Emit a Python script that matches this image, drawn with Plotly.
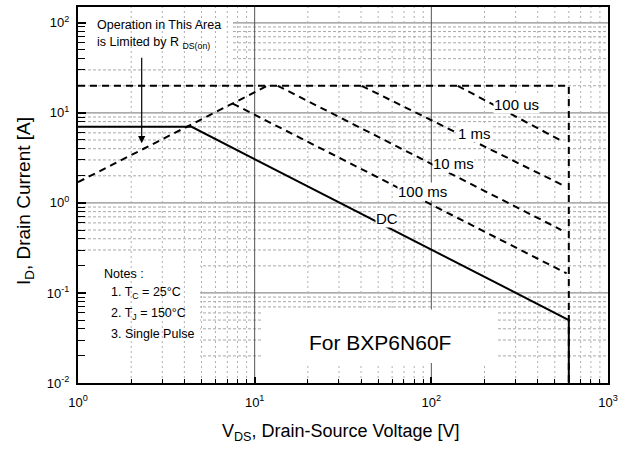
import math
import plotly.graph_objects as go

# ---------------- data ----------------
dc_v = [1, 4.4, 600, 600]
dc_i = [7, 7, 0.05, 0.01]

limit_v = [1, 600, 600]          # 20 A pulsed limit and 600 V BVDSS limit
limit_i = [20, 20, 0.01]

rds_v = [1, 11.8]                # R_DS(on) limit line
rds_i = [1.7, 20]

us100_v = [141, 556]
us100_i = [20, 4.8]
ms1_v = [40.3, 546]
ms1_i = [20, 1.6]
ms10_v = [13.5, 545]
ms10_i = [20, 0.5]
ms100_v = [7.5, 583]
ms100_i = [12.7, 0.165]

x_ticks = [1, 10, 100, 1000]
x_ticktext = ["10<sup>0</sup>", "10<sup>1</sup>", "10<sup>2</sup>", "10<sup>3</sup>"]
y_ticks = [0.01, 0.1, 1, 10, 100]
y_ticktext = ["10<sup>-2</sup>", "10<sup>-1</sup>", "10<sup>0</sup>", "10<sup>1</sup>", "10<sup>2</sup>"]

XR = [0, 3]
YR = [-2, 2.176]

FONT = "Liberation Sans, Arial, Helvetica, sans-serif"

fig = go.Figure()

dash_line = dict(color="black", width=2, dash="7px,5px")
fig.add_trace(go.Scatter(x=limit_v, y=limit_i, mode="lines", line=dash_line, hoverinfo="skip"))
fig.add_trace(go.Scatter(x=rds_v, y=rds_i, mode="lines", line=dash_line, hoverinfo="skip"))
for vv, ii in [(us100_v, us100_i), (ms1_v, ms1_i), (ms10_v, ms10_i), (ms100_v, ms100_i)]:
    fig.add_trace(go.Scatter(x=vv, y=ii, mode="lines", line=dash_line, hoverinfo="skip"))
fig.add_trace(go.Scatter(x=dc_v, y=dc_i, mode="lines",
                         line=dict(color="black", width=2), hoverinfo="skip"))

# ---------------- grid drawn as shapes ----------------
def fx(v):
    return (math.log10(v) - XR[0]) / (XR[1] - XR[0])

def fy(v):
    return (math.log10(v) - YR[0]) / (YR[1] - YR[0])

def px2fx(p):
    return (p - 78) / 530.0

def px2fy(p):
    return (383 - p) / 378.0

shapes = []
# horizontal grid
for e in range(-2, 3):
    for m in range(1, 10):
        v = m * 10 ** e
        if v <= 0.01 or math.log10(v) > YR[1]:
            continue
        if m == 1:
            ln = dict(color="#8f8f8f", width=1.3)
        else:
            ln = dict(color="#a8a8a8", width=1, dash="3px,2px")
        shapes.append(dict(type="line", xref="paper", yref="paper", x0=0, x1=1,
                           y0=fy(v), y1=fy(v), line=ln, layer="below"))
# white boxes that hide horizontal grid only
for (x0, x1, y0, y1) in [(78, 233, 5, 63), (78, 200, 257, 383)]:
    shapes.append(dict(type="rect", xref="paper", yref="paper",
                       x0=px2fx(x0), x1=px2fx(x1), y0=px2fy(y1), y1=px2fy(y0),
                       fillcolor="white", line=dict(width=0), layer="below"))
# vertical grid
for e in range(0, 3):
    for m in range(1, 10):
        v = m * 10 ** e
        if v <= 1:
            continue
        if m == 1:
            ln = dict(color="#555555", width=1)
        else:
            ln = dict(color="#b0b0b0", width=1, dash="2px,3px")
        shapes.append(dict(type="line", xref="paper", yref="paper", x0=fx(v), x1=fx(v),
                           y0=0, y1=1, line=ln, layer="below"))
# box behind the part-number text
shapes.append(dict(type="rect", xref="paper", yref="paper",
                   x0=px2fx(262), x1=px2fx(498), y0=px2fy(363), y1=px2fy(309),
                   fillcolor="white", line=dict(width=0), layer="below"))

annotations = []
def lab(text, cx, cy, size=15, bg="white", xanchor="center", ax_=None):
    annotations.append(dict(text=text, xref="paper", yref="paper", x=px2fx(cx), y=px2fy(cy),
                            xanchor=xanchor, yanchor="middle", showarrow=False,
                            font=dict(family=FONT, size=size, color="black"),
                            bgcolor=bg, borderpad=0))

lab("100 us", 516, 103)
lab("1 ms", 475, 132)
lab("10 ms", 453, 162)
lab("100 ms", 422, 190)
lab("DC", 387, 218)
lab("For BXP6N60F", 308, 342, size=21, bg="rgba(0,0,0,0)", xanchor="left")

lab("Operation in This Area", 96, 23, size=12.5, bg="rgba(0,0,0,0)", xanchor="left")
lab("is Limited by R <sub>DS(on)</sub>", 96, 41, size=12.5, bg="rgba(0,0,0,0)", xanchor="left")

lab("Notes :", 103, 273, size=12.5, bg="rgba(0,0,0,0)", xanchor="left")
lab("1. T<sub>C</sub> = 25°C", 110, 293, size=12.5, bg="rgba(0,0,0,0)", xanchor="left")
lab("2. T<sub>J</sub> = 150°C", 110, 314, size=12.5, bg="rgba(0,0,0,0)", xanchor="left")
lab("3. Single Pulse", 110, 334, size=12.5, bg="rgba(0,0,0,0)", xanchor="left")

# arrow pointing to the R_DS(on) line
annotations.append(dict(xref="paper", yref="paper", x=px2fx(141.7), y=px2fy(142),
                        ax=0, ay=-87, axref="pixel", ayref="pixel", text="",
                        showarrow=True, arrowhead=2, arrowsize=1.2, arrowwidth=1.2,
                        arrowcolor="black", standoff=0, startstandoff=0))

# axis titles
annotations.append(dict(text="V<sub>DS</sub>, Drain-Source Voltage [V]", xref="paper", yref="paper",
                        x=px2fx(341), y=px2fy(433), xanchor="center", yanchor="middle",
                        showarrow=False, font=dict(family=FONT, size=18, color="black")))
annotations.append(dict(text="I<sub>D</sub>, Drain Current [A]", xref="paper", yref="paper",
                        x=px2fx(25), y=px2fy(200), xanchor="center", yanchor="middle",
                        textangle=-90, showarrow=False,
                        font=dict(family=FONT, size=19, color="black")))

x_minor = [m * 10 ** e for e in range(0, 3) for m in range(2, 10)]
y_minor = [m * 10 ** e for e in range(-2, 3) for m in range(2, 10) if m * 10 ** e < 150]

fig.update_layout(
    width=629, height=450,
    margin=dict(l=78, r=21, t=5, b=67),
    paper_bgcolor="white", plot_bgcolor="white",
    showlegend=False,
    shapes=shapes, annotations=annotations,
    font=dict(family=FONT, color="black", size=12),
    xaxis=dict(type="log", range=XR, tickmode="array", tickvals=x_ticks, ticktext=x_ticktext,
               showgrid=False, zeroline=False, showline=True, linecolor="black", linewidth=2,
               mirror=True, ticks="inside", ticklen=6, tickwidth=1.5, tickcolor="black",
               ticklabelstandoff=6,
               tickfont=dict(family=FONT, size=13, color="black"),
               minor=dict(tickmode="array", tickvals=x_minor, ticks="inside", ticklen=4,
                          tickwidth=1.3, tickcolor="black", showgrid=False)),
    yaxis=dict(type="log", range=YR, tickmode="array", tickvals=y_ticks, ticktext=y_ticktext,
               showgrid=False, zeroline=False, showline=True, linecolor="black", linewidth=2,
               mirror=True, ticks="inside", ticklen=8, tickwidth=1.5, tickcolor="black",
               ticklabelstandoff=4,
               tickfont=dict(family=FONT, size=13, color="black"),
               minor=dict(tickmode="array", tickvals=y_minor, ticks="inside", ticklen=7,
                          tickwidth=1, tickcolor="black", showgrid=False)),
)

fig.write_html("out.html")
